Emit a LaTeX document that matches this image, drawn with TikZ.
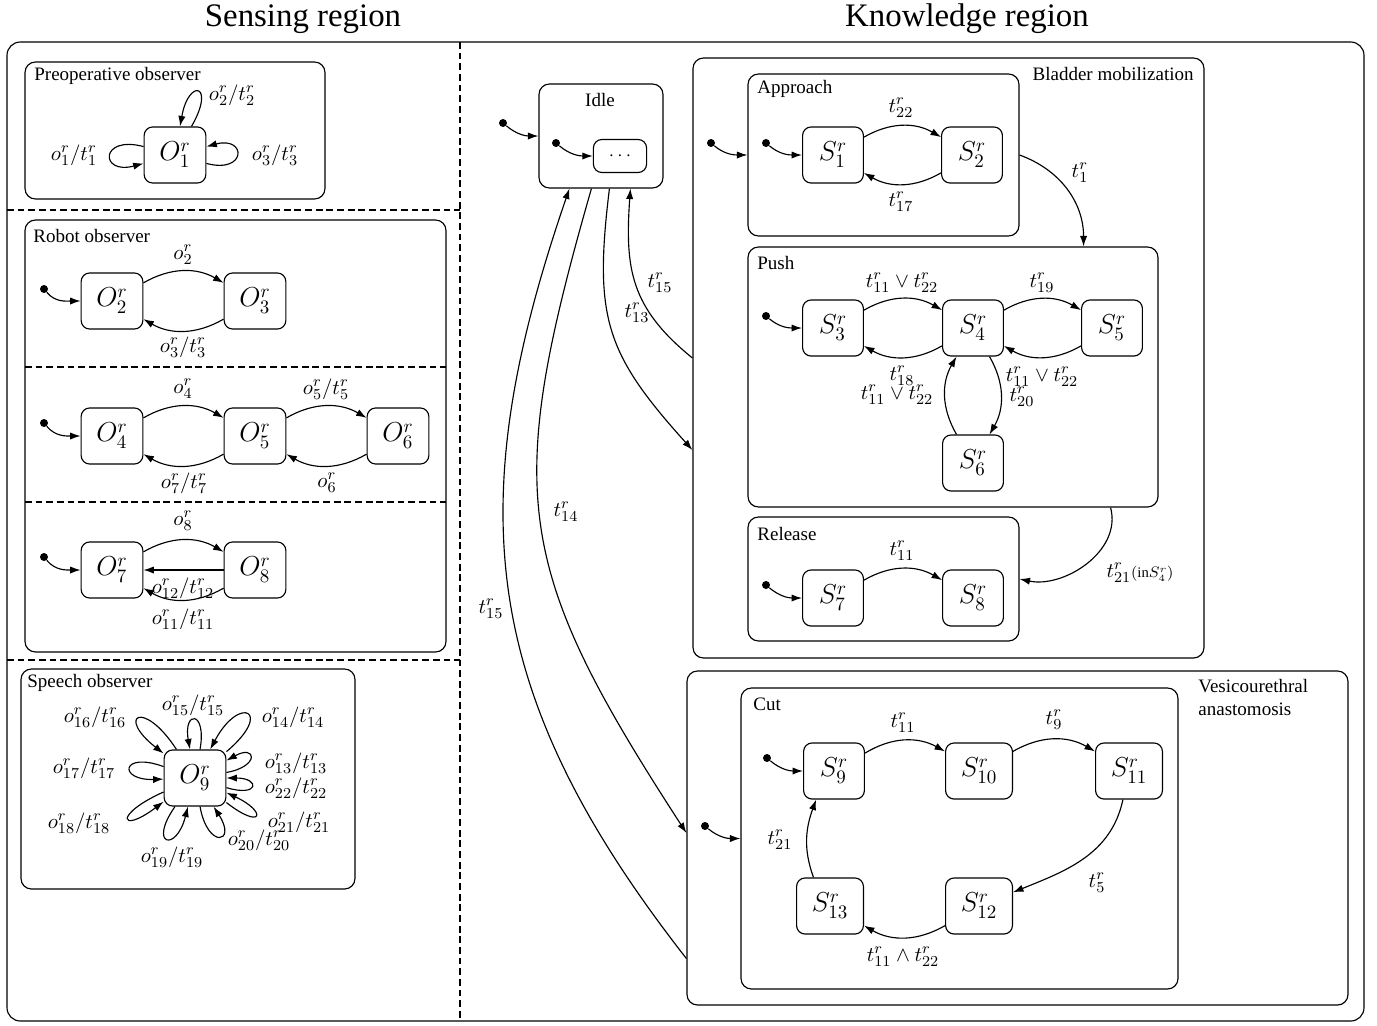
\documentclass[tikz,border=0pt]{standalone}
\usepackage{fontspec}
\setmainfont{Liberation Serif}
\usetikzlibrary{arrows.meta,fit,calc}
\newcommand\pxu{0.526pt}

\begin{document}
\begin{tikzpicture}[x=0.526pt,y=0.526pt,
  tr/.style={semithick,-{Latex[length=5.5pt,width=3.8pt]}},
  stnode/.style={draw,semithick,rounded corners=4.5pt,minimum width=32pt,
    minimum height=29.5pt,inner xsep=8pt,font=\Large},
  grp/.style={draw,semithick,rounded corners=5.5pt,inner sep=0pt},
  grplabel/.style={inner sep=0pt,font=\normalsize},
  lab/.style={inner sep=0pt,font=\fontsize{11}{13}\selectfont},
  initdot/.style={circle,fill,inner sep=0pt,minimum size=4.2pt},
  sepline/.style={semithick,dash pattern=on 3.6pt off 2pt}]

\useasboundingbox (0,0) rectangle (1377,-1025);

% ---------- frame and titles ----------
\node[grp,rounded corners=7pt,fit={(7,-42) (1364,-1021)}] (frame) {};
\node[font=\LARGE] (senstitle) at (303,-19) {Sensing region};
\node[font=\LARGE] (knowtitle) at (967,-19) {Knowledge region};
\draw[sepline] (460,-42) -- (460,-1021);
\draw[sepline] (7,-210) -- (460,-210);
\draw[sepline] (7,-660) -- (460,-660);

% ---------- preoperative observer ----------
\node[grp,fit={(25,-62) (325,-199)}] (preop) {};
\node[grplabel,anchor=west] (preoplbl) at (34,-76) {Preoperative observer};
\node[stnode] (O1) at (175,-155) {$O^r_1$};
\draw[tr] (O1) to[out=165,in=195,distance=24pt] (O1)
  node[lab] at (74,-155) {$o^r_1/t^r_1$};
\draw[tr] (O1) to[out=-15,in=15,distance=22pt] (O1)
  node[lab] at (275,-155) {$o^r_3/t^r_3$};
\draw[tr] (O1) to[out=60,in=80,distance=26pt] (O1)
  node[lab] at (232,-95) {$o^r_2/t^r_2$};

% ---------- robot observer ----------
\node[grp,fit={(25,-220) (446,-652)}] (robot) {};
\node[grplabel,anchor=west] (robotlbl) at (33,-236) {Robot observer};
\draw[sepline] (25,-367) -- (446,-367);
\draw[sepline] (25,-502) -- (446,-502);

\node[stnode] (O2) at (112,-301) {$O^r_2$};
\node[stnode] (O3) at (255,-301) {$O^r_3$};
\node[initdot] (i2) at (44,-289) {};
\draw[tr] (i2) to[out=-50,in=180] (O2);
\draw[tr] (O2) to[bend left=30] (O3) node[lab] at (183,-255) {$o^r_2$};
\draw[tr] (O3) to[bend left=30] (O2) node[lab] at (183,-347) {$o^r_3/t^r_3$};

\node[stnode] (O4) at (112,-436) {$O^r_4$};
\node[stnode] (O5) at (255,-436) {$O^r_5$};
\node[stnode] (O6) at (398,-436) {$O^r_6$};
\node[initdot] (i4) at (44,-423) {};
\draw[tr] (i4) to[out=-50,in=180] (O4);
\draw[tr] (O4) to[bend left=30] (O5) node[lab] at (183,-389) {$o^r_4$};
\draw[tr] (O5) to[bend left=30] (O6) node[lab] at (326,-389) {$o^r_5/t^r_5$};
\draw[tr] (O5) to[bend left=30] (O4) node[lab] at (184,-483) {$o^r_7/t^r_7$};
\draw[tr] (O6) to[bend left=30] (O5) node[lab] at (327,-483) {$o^r_6$};

\node[stnode] (O7) at (112,-570) {$O^r_7$};
\node[stnode] (O8) at (255,-570) {$O^r_8$};
\node[initdot] (i7) at (44,-557) {};
\draw[tr] (i7) to[out=-50,in=180] (O7);
\draw[tr] (O7) to[bend left=30] (O8) node[lab] at (183,-521) {$o^r_8$};
\draw[tr] (O8) -- (O7) node[lab] at (183,-588) {$o^r_{12}/t^r_{12}$};
\draw[tr] (O8) to[bend left=30] (O7) node[lab] at (183,-619) {$o^r_{11}/t^r_{11}$};

% ---------- speech observer ----------
\node[grp,fit={(21,-669) (355,-889)}] (speech) {};
\node[grplabel,anchor=west] (speechlbl) at (27,-683) {Speech observer};
\node[stnode] (O9) at (195,-778) {$O^r_9$};
\draw[tr] (O9) to[out=80,in=100,distance=21pt] (O9)
  node[lab] at (193,-705) {$o^r_{15}/t^r_{15}$};
\draw[tr] (O9) to[out=40,in=62,distance=33pt] (O9)
  node[lab] at (293,-717) {$o^r_{14}/t^r_{14}$};
\draw[tr] (O9) to[out=123,in=142,distance=32pt] (O9)
  node[lab] at (95,-717) {$o^r_{16}/t^r_{16}$};
\draw[tr] (O9) to[out=160,in=182,distance=24pt] (O9)
  node[lab] at (84,-768) {$o^r_{17}/t^r_{17}$};
\draw[tr] (O9) to[out=10,in=29,distance=18pt] (O9)
  node[lab] at (296,-763) {$o^r_{13}/t^r_{13}$};
\draw[tr] (O9) to[out=-17,in=0,distance=18pt] (O9)
  node[lab] at (296,-788) {$o^r_{22}/t^r_{22}$};
\draw[tr] (O9) to[out=-38,in=-25,distance=24pt] (O9)
  node[lab] at (299,-822) {$o^r_{21}/t^r_{21}$};
\draw[tr] (O9) to[out=-80,in=-57,distance=23pt] (O9)
  node[lab] at (259,-840) {$o^r_{20}/t^r_{20}$};
\draw[tr] (O9) to[out=-125,in=-104,distance=25pt] (O9)
  node[lab] at (172,-857) {$o^r_{19}/t^r_{19}$};
\draw[tr] (O9) to[out=204,in=217,distance=29pt] (O9)
  node[lab] at (79,-823) {$o^r_{18}/t^r_{18}$};

% ---------- idle ----------
\node[grp,fit={(539,-84) (663,-188)}] (idle) {};
\node[grplabel] (idlelbl) at (600,-100) {Idle};
\node[draw,semithick,rounded corners=4.5pt,minimum width=28pt,minimum height=17.4pt,
  inner sep=0pt] (dots) at (620,-156) {$\cdots$};
\node[initdot] (iidle) at (503,-123) {};
\node[initdot] (iidlein) at (556,-143) {};
\draw[tr] (iidle) to[out=-40,in=180] (idle);
\draw[tr] (iidlein) to[out=-40,in=180] (dots);

% ---------- bladder mobilization ----------
\node[grp,fit={(693,-58) (1204,-658)}] (bladder) {};
\node[grplabel,anchor=east] (bladderlbl) at (1194,-74) {Bladder mobilization};

\node[grp,fit={(748,-74) (1019,-236)}] (approach) {};
\node[grplabel,anchor=west] (approachlbl) at (757,-89) {Approach};
\node[initdot] (iappr) at (711,-143) {};
\draw[tr] (iappr) to[out=-40,in=180] (approach);
\node[stnode] (S1) at (833,-155) {$S^r_1$};
\node[stnode] (S2) at (972,-155) {$S^r_2$};
\node[initdot] (is1) at (766,-143) {};
\draw[tr] (is1) to[out=-40,in=180] (S1);
\draw[tr] (S1) to[bend left=30] (S2) node[lab] at (901,-108) {$t^r_{22}$};
\draw[tr] (S2) to[bend left=30] (S1) node[lab] at (901,-202) {$t^r_{17}$};

\node[grp,fit={(748,-247) (1158,-507)}] (push) {};
\node[grplabel,anchor=west] (pushlbl) at (757,-263) {Push};
\node[stnode] (S3) at (833,-328) {$S^r_3$};
\node[stnode] (S4) at (973,-328) {$S^r_4$};
\node[stnode] (S5) at (1112,-328) {$S^r_5$};
\node[stnode] (S6) at (973,-463) {$S^r_6$};
\node[initdot] (is3) at (766,-316) {};
\draw[tr] (is3) to[out=-40,in=180] (S3);
\draw[tr] (S3) to[bend left=30] (S4) node[lab] at (902,-283) {$t^r_{11}\vee t^r_{22}$};
\draw[tr] (S4) to[bend left=30] (S3) node[lab] at (902,-376) {$t^r_{18}$};
\draw[tr] (S4) to[bend left=30] (S5) node[lab] at (1042,-283) {$t^r_{19}$};
\draw[tr] (S5) to[bend left=30] (S4) node[lab] at (1042,-377) {$t^r_{11}\vee t^r_{22}$};
\draw[tr] (S6) to[bend left=30] (S4) node[lab] at (897,-395) {$t^r_{11}\vee t^r_{22}$};
\draw[tr] (S4) to[bend left=30] (S6) node[lab] at (1022,-397) {$t^r_{20}$};

\draw[tr] (approach.east) to[out=-20,in=90] ([xshift=-75*\pxu]push.north east)
  node[lab] at (1080,-173) {$t^r_1$};

\node[grp,fit={(748,-517) (1019,-641)}] (release) {};
\node[grplabel,anchor=west] (releaselbl) at (757,-534) {Release};
\node[stnode] (S7) at (833,-598) {$S^r_7$};
\node[stnode] (S8) at (973,-598) {$S^r_8$};
\node[initdot] (is7) at (766,-585) {};
\draw[tr] (is7) to[out=-40,in=180] (S7);
\draw[tr] (S7) to[bend left=30] (S8) node[lab] at (902,-551) {$t^r_{11}$};

\draw[tr] ([xshift=-48*\pxu]push.south east) to[out=-75,in=-12] (release.east)
  node[lab] at (1140,-573) {$t^r_{21}{\scriptstyle(\mathrm{in}S^r_4)}$};

% ---------- vesicourethral anastomosis ----------
\node[grp,fit={(687,-671) (1348,-1005)}] (vesico) {};
\node[grplabel,anchor=north west,align=left] (vesicolbl) at (1198,-679)
  {Vesicourethral\\anastomosis};
\node[initdot] (ivesico) at (705,-826) {};
\node[grp,fit={(741,-688) (1178,-989)}] (cut) {};
\node[grplabel,anchor=west] (cutlbl) at (753,-704) {Cut};
\draw[tr] (ivesico) to[out=-40,in=180] (cut);

\node[stnode] (S9) at (834,-771) {$S^r_9$};
\node[stnode] (S10) at (979,-771) {$S^r_{10}$};
\node[stnode] (S11) at (1129,-771) {$S^r_{11}$};
\node[stnode] (S12) at (979,-906) {$S^r_{12}$};
\node[stnode] (S13) at (830,-906) {$S^r_{13}$};
\node[initdot] (is9) at (767,-758) {};
\draw[tr] (is9) to[out=-40,in=180] (S9);
\draw[tr] (S9) to[bend left=30] (S10) node[lab] at (903,-723) {$t^r_{11}$};
\draw[tr] (S10) to[bend left=30] (S11) node[lab] at (1054,-720) {$t^r_9$};
\draw[tr] (S11) to[out=-102,in=22] (S12) node[lab] at (1097,-883) {$t^r_5$};
\draw[tr] (S12) to[bend left=30] (S13) node[lab] at (903,-957) {$t^r_{11}\wedge t^r_{22}$};
\draw[tr] (S13.120) to[out=110,in=-110] (S9.-122) node[lab] at (780,-840) {$t^r_{21}$};

% ---------- transitions between idle and the procedures ----------
\draw[tr] ([yshift=47*\pxu]vesico.south west) .. controls +(128:336) and +(-109:336) ..
  ([xshift=31*\pxu]idle.south west) node[lab] at (491,-609) {$t^r_{15}$};
\draw[tr] ([xshift=53*\pxu]idle.south west) .. controls +(-106:318) and +(123:318) ..
  ([yshift=5*\pxu]vesico.west) node[lab] at (566,-512) {$t^r_{14}$};
\draw[tr] ([xshift=71*\pxu]idle.south west) .. controls +(-97:130) and +(132:130) ..
  ([yshift=-92*\pxu]bladder.west) node[lab] at (637,-313) {$t^r_{13}$};
\draw[tr] (bladder.west) .. controls +(141:80) and +(-94:80) ..
  ([xshift=92*\pxu]idle.south west) node[lab] at (660,-283) {$t^r_{15}$};
\end{tikzpicture}
\end{document}
